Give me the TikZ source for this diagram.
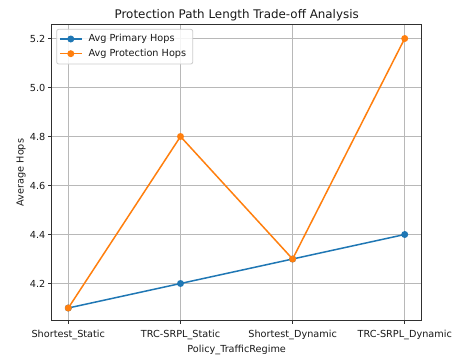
\documentclass[tikz,border=0pt]{standalone}
\usepackage{fontspec}
\setmainfont{DejaVu Sans}
\definecolor{mplblue}{HTML}{1F77B4}
\definecolor{mplorange}{HTML}{FF7F0E}
\definecolor{gridgray}{HTML}{B8B8B8}
\definecolor{framegray}{HTML}{303030}
\begin{document}
\begin{tikzpicture}[x=1pt,y=-1pt,
  gridline/.style={gridgray,line width=0.8pt},
  frame/.style={framegray,line width=0.9pt},
  tick/.style={framegray,line width=0.8pt},
  ticklabel/.style={font=\fontsize{9.7}{11}\selectfont,text=black!90,inner sep=0pt},
  series/.style={line width=1.5pt,line join=round},
  marker/.style={circle,fill=#1,inner sep=0pt,minimum size=7pt},
  legendbox/.style={draw=gridgray!70,fill=white,fill opacity=0.85,rounded corners=2pt,line width=0.8pt}
]
\useasboundingbox (0,0) rectangle (454,356);
\fill[white] (0,0) rectangle (454,356);

% axes frame corners
\coordinate (ax0) at (51.7,320.7);
\coordinate (ax1) at (421.7,24.3);

% grid: vertical lines at categories
\foreach \cx in {68.3,180.5,292.6,404.7}
  \draw[gridline] (\cx,24.3) -- (\cx,320.7);
% grid: horizontal lines at y ticks
\foreach \cy in {38.5,87.5,136.5,185.5,234.5,283.5}
  \draw[gridline] (51.7,\cy) -- (421.7,\cy);

% data points
\coordinate (b1) at (68.3,308.0);
\coordinate (b2) at (180.5,283.5);
\coordinate (b3) at (292.6,259.0);
\coordinate (b4) at (404.7,234.5);
\coordinate (o1) at (68.3,308.0);
\coordinate (o2) at (180.5,136.5);
\coordinate (o3) at (292.6,259.0);
\coordinate (o4) at (404.7,38.5);

% primary hops
\draw[series,mplblue] (b1) -- (b2) -- (b3) -- (b4);
\foreach \p in {b1,b2,b3,b4}
  \node[marker=mplblue] at (\p) {};
% protection hops
\draw[series,mplorange] (o1) -- (o2) -- (o3) -- (o4);
\foreach \p in {o1,o2,o3,o4}
  \node[marker=mplorange] at (\p) {};

% frame
\draw[frame] (ax0) rectangle (ax1);

% y ticks and labels
\foreach \cy/\lab in {38.5/5.2,87.5/5.0,136.5/4.8,185.5/4.6,234.5/4.4,283.5/4.2}{
  \draw[tick] (51.7,\cy) -- (48.2,\cy);
  \node[ticklabel,anchor=east] at (45.5,\cy) {\lab};
}
% x ticks and labels
\foreach \cx/\lab in {68.3/Shortest\_Static,180.5/TRC-SRPL\_Static,292.6/Shortest\_Dynamic,404.7/TRC-SRPL\_Dynamic}{
  \draw[tick] (\cx,320.7) -- (\cx,324.2);
  \node[ticklabel,anchor=base] at (\cx,337.5) {\lab};
}

% axis labels and title
\node[ticklabel,anchor=base] (xlab) at (236.7,352.5) {Policy\_TrafficRegime};
\node[ticklabel,anchor=base,rotate=90] (ylab) at (23.5,172.5) {Average Hops};
\node[anchor=base,inner sep=0pt,font=\fontsize{11.9}{13}\selectfont,text=black!90] (title) at (236.7,18.5) {Protection Path Length Trade-off Analysis};

% legend
\draw[legendbox] (56.7,29.3) rectangle (192.7,64.0);
\coordinate (l1a) at (60,39);
\coordinate (l1b) at (81.7,39);
\coordinate (l2a) at (60,53.7);
\coordinate (l2b) at (81.7,53.7);
\draw[series,mplblue] (l1a) -- (l1b);
\node[marker=mplblue] at (70.8,39) {};
\draw[series,mplorange] (l2a) -- (l2b);
\node[marker=mplorange] at (70.8,53.7) {};
\node[ticklabel,anchor=west] (leg1) at (88.3,39) {Avg Primary Hops};
\node[ticklabel,anchor=west] (leg2) at (88.3,53.7) {Avg Protection Hops};
\end{tikzpicture}
\end{document}
